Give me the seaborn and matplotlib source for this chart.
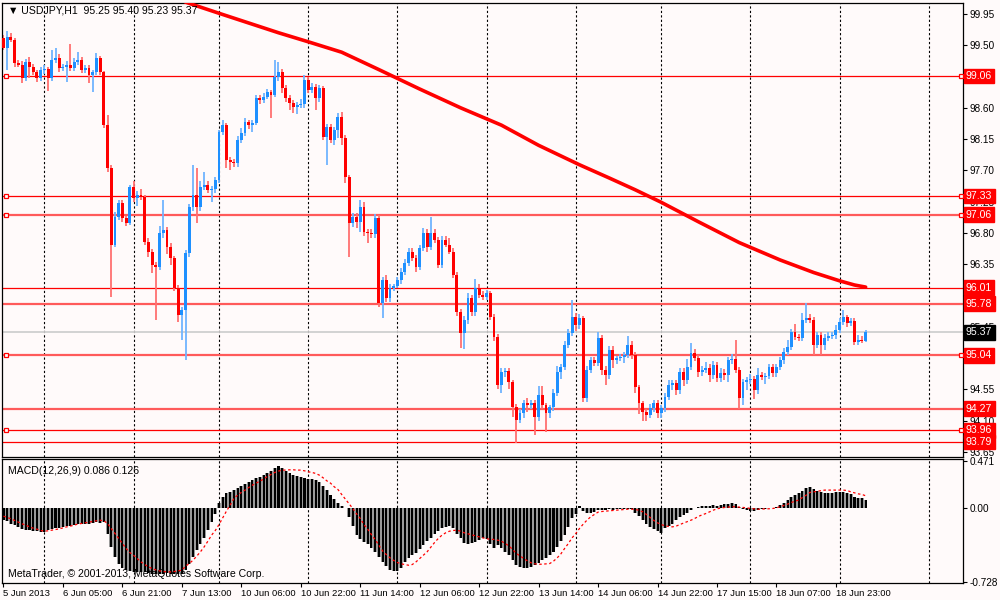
import numpy as np
import pandas as pd
import matplotlib
matplotlib.use("Agg")
import matplotlib.pyplot as plt
import seaborn as sns

# USDJPY H1 candles, bar 0 = 5 Jun 2013 13:00 (open of the first bar, then closes)
first_open = 99.60
closes = [
    99.46, 99.62, 99.58, 99.24, 99.22, 99.03, 99.26, 99.19, 99.11, 99.03,
    99.14, 99.16, 99.03, 99.29, 99.32, 99.17, 99.19, 99.22, 99.17, 99.26,
    99.29, 99.14, 99.17, 99.07, 99.11, 99.32, 99.11, 98.35, 97.73, 96.63,
    97.03, 97.23, 97.01, 96.94, 97.46, 97.30, 97.35, 97.32, 96.67, 96.53,
    96.34, 96.31, 96.80, 96.84, 96.60, 96.44, 96.01, 95.62, 95.69, 96.51,
    97.17, 97.35, 97.17, 97.46, 97.49, 97.42, 97.43, 97.56, 98.25, 98.35,
    97.85, 97.82, 97.80, 98.14, 98.24, 98.40, 98.35, 98.38, 98.74, 98.71,
    98.76, 98.83, 98.78, 99.04, 99.11, 98.89, 98.74, 98.67, 98.61, 98.64,
    98.65, 99.00, 98.86, 98.90, 98.74, 98.89, 98.18, 98.32, 98.14, 98.28,
    98.47, 98.17, 97.60, 96.94, 97.03, 96.96, 97.17, 96.81, 96.80, 96.78,
    97.01, 95.79, 96.12, 95.86, 96.01, 96.04, 96.12, 96.24, 96.37, 96.53,
    96.44, 96.31, 96.58, 96.80, 96.60, 96.80, 96.70, 96.34, 96.70, 96.63,
    96.53, 96.19, 95.66, 95.36, 95.55, 95.86, 95.66, 96.01, 95.91, 95.88,
    95.94, 95.59, 95.30, 94.61, 94.80, 94.81, 94.66, 94.29, 94.11, 94.21,
    94.35, 94.32, 94.35, 94.15, 94.47, 94.32, 94.21, 94.29, 94.50, 94.80,
    94.87, 95.19, 95.36, 95.59, 95.47, 95.58, 94.42, 94.83, 94.97, 94.93,
    95.29, 94.83, 94.75, 95.12, 94.97, 95.00, 95.01, 95.04, 95.19, 95.04,
    94.58, 94.35, 94.22, 94.18, 94.28, 94.35, 94.21, 94.28, 94.44, 94.61,
    94.64, 94.54, 94.80, 94.68, 94.87, 95.07, 95.00, 94.80, 94.83, 94.86,
    94.75, 94.90, 94.71, 94.78, 94.75, 94.97, 94.99, 94.83, 94.42, 94.66,
    94.68, 94.70, 94.54, 94.75, 94.73, 94.74, 94.87, 94.78, 94.87, 94.97,
    95.09, 95.16, 95.37, 95.30, 95.29, 95.55, 95.58, 95.55, 95.19, 95.33,
    95.19, 95.29, 95.32, 95.33, 95.40, 95.52, 95.59, 95.50, 95.53, 95.23,
    95.26, 95.25, 95.37,
]
# wick lengths above / below the candle body
upper_wick = [
    0.05, 0.08, 0.06, 0.02, 0.05, 0.06, 0.04, 0.07, 0.04, 0.03,
    0.04, 0.05, 0.02, 0.14, 0.14, 0.05, 0.04, 0.05, 0.30, 0.05,
    0.12, 0.04, 0.04, 0.04, 0.03, 0.07, 0.03, 0.02, 0.15, 0.04,
    0.07, 0.05, 0.04, 0.04, 0.03, 0.08, 0.05, 0.08, 0.03, 0.05,
    0.04, 0.04, 0.10, 0.43, 0.05, 0.05, 0.03, 0.04, 0.05, 0.05,
    0.05, 0.43, 0.38, 0.08, 0.19, 0.05, 0.05, 0.05, 0.03, 0.07,
    0.03, 0.04, 0.05, 0.05, 0.07, 0.05, 0.03, 0.04, 0.04, 0.04,
    0.05, 0.04, 0.03, 0.25, 0.15, 0.05, 0.04, 0.04, 0.04, 0.05,
    0.07, 0.07, 0.04, 0.05, 0.04, 0.04, 0.03, 0.05, 0.04, 0.05,
    0.05, 0.07, 0.04, 0.03, 0.05, 0.05, 0.10, 0.08, 0.05, 0.05,
    0.06, 0.05, 0.05, 0.08, 0.05, 0.03, 0.05, 0.05, 0.05, 0.05,
    0.05, 0.04, 0.05, 0.07, 0.05, 0.23, 0.05, 0.04, 0.05, 0.05,
    0.10, 0.05, 0.04, 0.04, 0.06, 0.08, 0.05, 0.12, 0.06, 0.05,
    0.04, 0.03, 0.04, 0.05, 0.05, 0.04, 0.05, 0.03, 0.05, 0.05,
    0.05, 0.08, 0.04, 0.05, 0.12, 0.12, 0.03, 0.04, 0.05, 0.08,
    0.05, 0.06, 0.06, 0.24, 0.05, 0.05, 0.03, 0.05, 0.05, 0.05,
    0.09, 0.04, 0.05, 0.05, 0.05, 0.03, 0.04, 0.04, 0.12, 0.06,
    0.04, 0.03, 0.03, 0.04, 0.06, 0.05, 0.04, 0.04, 0.05, 0.08,
    0.05, 0.04, 0.05, 0.06, 0.12, 0.14, 0.06, 0.04, 0.06, 0.08,
    0.06, 0.05, 0.04, 0.07, 0.06, 0.05, 0.06, 0.27, 0.04, 0.04,
    0.05, 0.07, 0.04, 0.10, 0.05, 0.05, 0.05, 0.04, 0.05, 0.04,
    0.05, 0.10, 0.05, 0.12, 0.05, 0.10, 0.21, 0.05, 0.04, 0.05,
    0.04, 0.05, 0.05, 0.05, 0.07, 0.05, 0.10, 0.03, 0.04, 0.05,
    0.07, 0.06, 0.03,
]
lower_wick = [
    0.03, 0.32, 0.03, 0.05, 0.04, 0.07, 0.05, 0.16, 0.04, 0.06,
    0.04, 0.05, 0.19, 0.04, 0.04, 0.05, 0.04, 0.22, 0.04, 0.04,
    0.04, 0.04, 0.04, 0.11, 0.24, 0.04, 0.04, 0.04, 0.05, 0.75,
    0.03, 0.05, 0.05, 0.04, 0.03, 0.05, 0.12, 0.05, 0.04, 0.08,
    0.12, 0.76, 0.05, 0.07, 0.10, 0.10, 0.05, 0.10, 0.36, 0.72,
    0.05, 0.05, 0.23, 0.05, 0.05, 0.05, 0.17, 0.05, 0.04, 0.04,
    0.12, 0.12, 0.05, 0.05, 0.05, 0.05, 0.05, 0.10, 0.03, 0.05,
    0.04, 0.03, 0.33, 0.03, 0.05, 0.07, 0.05, 0.10, 0.08, 0.10,
    0.05, 0.05, 0.05, 0.04, 0.17, 0.05, 0.05, 0.40, 0.05, 0.08,
    0.12, 0.10, 0.08, 0.49, 0.05, 0.09, 0.15, 0.05, 0.15, 0.05,
    0.05, 0.06, 0.21, 0.05, 0.05, 0.04, 0.04, 0.05, 0.04, 0.05,
    0.04, 0.08, 0.04, 0.04, 0.08, 0.05, 0.05, 0.05, 0.05, 0.04,
    0.04, 0.04, 0.05, 0.22, 0.23, 0.06, 0.05, 0.05, 0.04, 0.05,
    0.05, 0.05, 0.06, 0.05, 0.12, 0.08, 0.10, 0.14, 0.33, 0.04,
    0.08, 0.10, 0.05, 0.26, 0.05, 0.05, 0.28, 0.08, 0.06, 0.05,
    0.10, 0.05, 0.04, 0.05, 0.08, 0.05, 0.05, 0.06, 0.05, 0.05,
    0.05, 0.08, 0.14, 0.05, 0.12, 0.05, 0.05, 0.08, 0.04, 0.05,
    0.08, 0.15, 0.12, 0.08, 0.05, 0.06, 0.08, 0.07, 0.06, 0.05,
    0.07, 0.08, 0.06, 0.08, 0.05, 0.04, 0.05, 0.07, 0.06, 0.05,
    0.10, 0.05, 0.06, 0.05, 0.06, 0.10, 0.05, 0.05, 0.16, 0.10,
    0.12, 0.05, 0.13, 0.06, 0.05, 0.10, 0.04, 0.05, 0.05, 0.05,
    0.05, 0.05, 0.05, 0.04, 0.05, 0.05, 0.04, 0.04, 0.15, 0.05,
    0.15, 0.07, 0.04, 0.04, 0.05, 0.04, 0.04, 0.05, 0.04, 0.05,
    0.04, 0.04, 0.02,
]

# MACD(12,26,9) main histogram and signal line
macd_main = [
    -0.116, -0.126, -0.149, -0.168, -0.185, -0.205, -0.211, -0.218, -0.221, -0.225,
    -0.228, -0.231, -0.215, -0.205, -0.195, -0.190, -0.182, -0.175, -0.170, -0.163,
    -0.155, -0.155, -0.150, -0.150, -0.148, -0.135, -0.140, -0.130, -0.248, -0.380,
    -0.479, -0.545, -0.588, -0.611, -0.621, -0.628, -0.628, -0.631, -0.634, -0.641,
    -0.644, -0.648, -0.644, -0.644, -0.641, -0.644, -0.648, -0.651, -0.644, -0.611,
    -0.545, -0.479, -0.413, -0.347, -0.291, -0.215, -0.132, -0.050, 0.050, 0.116,
    0.149, 0.165, 0.182, 0.205, 0.221, 0.238, 0.258, 0.278, 0.297, 0.314,
    0.330, 0.350, 0.373, 0.396, 0.420, 0.403, 0.370, 0.347, 0.330, 0.320,
    0.307, 0.297, 0.294, 0.287, 0.278, 0.258, 0.225, 0.182, 0.132, 0.089,
    0.056, 0.026, 0.008, -0.083, -0.172, -0.264, -0.304, -0.330, -0.353, -0.390,
    -0.429, -0.479, -0.529, -0.572, -0.605, -0.618, -0.621, -0.585, -0.529, -0.489,
    -0.456, -0.436, -0.400, -0.357, -0.324, -0.291, -0.251, -0.225, -0.198, -0.185,
    -0.172, -0.198, -0.248, -0.297, -0.337, -0.347, -0.344, -0.334, -0.317, -0.297,
    -0.304, -0.347, -0.390, -0.360, -0.396, -0.429, -0.463, -0.512, -0.562, -0.578,
    -0.588, -0.585, -0.578, -0.562, -0.535, -0.512, -0.489, -0.463, -0.429, -0.380,
    -0.324, -0.264, -0.182, -0.099, -0.050, 0.026, -0.026, -0.040, -0.040, -0.033,
    -0.017, -0.020, -0.017, -0.010, -0.013, -0.010, -0.010, -0.007, -0.003, -0.010,
    -0.040, -0.076, -0.116, -0.152, -0.182, -0.205, -0.225, -0.238, -0.198, -0.175,
    -0.149, -0.119, -0.089, -0.066, -0.040, -0.017, 0.007, 0.017, 0.023, 0.026,
    0.026, 0.030, 0.026, 0.033, 0.040, 0.046, 0.050, 0.040, 0.010, -0.007,
    -0.017, -0.026, -0.026, -0.017, -0.010, -0.007, 0.000, 0.007, 0.013, 0.033,
    0.050, 0.083, 0.109, 0.132, 0.155, 0.175, 0.198, 0.208, 0.192, 0.175,
    0.165, 0.155, 0.149, 0.149, 0.159, 0.159, 0.159, 0.155, 0.139, 0.116,
    0.106, 0.099, 0.086,
]
macd_signal = [
    -0.076, -0.089, -0.102, -0.119, -0.135, -0.152, -0.165, -0.182, -0.195, -0.205,
    -0.218, -0.225, -0.221, -0.215, -0.208, -0.202, -0.192, -0.182, -0.175, -0.165,
    -0.155, -0.149, -0.142, -0.135, -0.129, -0.122, -0.116, -0.122, -0.149, -0.198,
    -0.248, -0.297, -0.347, -0.396, -0.436, -0.463, -0.496, -0.529, -0.555, -0.578,
    -0.595, -0.608, -0.618, -0.624, -0.628, -0.628, -0.624, -0.618, -0.611, -0.572,
    -0.545, -0.512, -0.472, -0.429, -0.380, -0.324, -0.264, -0.218, -0.159, -0.092,
    -0.026, 0.033, 0.099, 0.132, 0.159, 0.182, 0.208, 0.231, 0.251, 0.271,
    0.291, 0.317, 0.337, 0.357, 0.370, 0.380, 0.380, 0.383, 0.383, 0.380,
    0.380, 0.373, 0.363, 0.357, 0.347, 0.330, 0.304, 0.274, 0.251, 0.215,
    0.188, 0.139, 0.093, 0.046, 0.000, -0.053, -0.099, -0.159, -0.205, -0.258,
    -0.307, -0.363, -0.420, -0.456, -0.489, -0.515, -0.535, -0.548, -0.555, -0.562,
    -0.555, -0.529, -0.496, -0.463, -0.429, -0.383, -0.337, -0.297, -0.264, -0.241,
    -0.225, -0.218, -0.215, -0.225, -0.241, -0.251, -0.261, -0.271, -0.281, -0.291,
    -0.301, -0.304, -0.307, -0.314, -0.324, -0.347, -0.370, -0.406, -0.446, -0.469,
    -0.496, -0.519, -0.538, -0.548, -0.552, -0.552, -0.548, -0.545, -0.522, -0.489,
    -0.449, -0.396, -0.347, -0.291, -0.248, -0.198, -0.155, -0.116, -0.083, -0.059,
    -0.036, -0.030, -0.026, -0.023, -0.020, -0.017, -0.013, -0.010, -0.007, -0.007,
    -0.010, -0.017, -0.033, -0.059, -0.089, -0.119, -0.142, -0.159, -0.172, -0.178,
    -0.182, -0.175, -0.159, -0.145, -0.132, -0.116, -0.099, -0.079, -0.063, -0.050,
    -0.033, -0.017, -0.003, 0.003, 0.010, 0.013, 0.017, 0.017, 0.013, 0.010,
    0.007, 0.000, -0.003, -0.007, -0.007, -0.003, -0.003, 0.000, 0.007, 0.017,
    0.030, 0.043, 0.059, 0.073, 0.083, 0.109, 0.132, 0.159, 0.165, 0.172,
    0.178, 0.182, 0.182, 0.182, 0.182, 0.182, 0.182, 0.178, 0.165, 0.155,
    0.145, 0.139, 0.126,
]

# thick red moving average, read at these bars
ma_bars = [45, 49, 58, 66, 74, 82, 91, 101, 112, 123, 134, 144, 155, 163, 170,
           177, 187, 198, 209, 218, 225, 229, 232]
ma_values = [100.25, 100.12, 99.96, 99.82, 99.68, 99.55, 99.40, 99.15, 98.87, 98.60,
             98.35, 98.06, 97.78, 97.59, 97.42, 97.24, 96.96, 96.66, 96.41, 96.23,
             96.11, 96.05, 96.02]

# horizontal levels drawn on the chart
thin_levels = [99.06, 97.33, 96.01, 93.96, 93.79]
thick_levels = [97.06, 95.78, 95.04, 94.27]
marked_levels = [99.06, 97.33, 97.06, 95.04, 93.96]
last_price = 95.37

price_ticks = [93.65, 94.10, 94.55, 95.00, 95.45, 95.90, 96.35, 96.80, 97.25,
               97.70, 98.15, 98.60, 99.05, 99.50, 99.95]
hidden_ticks = [95.00, 99.05]  # covered by the level boxes in the original
macd_ticks = [0.471, 0.0, -0.728]
macd_tick_labels = ["0.471", "0.00", "-0.728"]

day_breaks = [11, 35, 58, 82, 106, 130, 154, 177, 201, 225, 249]
time_bars = [0, 16, 32, 48, 64, 80, 96, 112, 128, 144, 160, 176, 192, 208, 224]
time_labels = ["5 Jun 2013", "6 Jun 05:00", "6 Jun 21:00", "7 Jun 13:00", "10 Jun 06:00",
               "10 Jun 22:00", "11 Jun 14:00", "12 Jun 06:00", "12 Jun 22:00", "13 Jun 14:00",
               "14 Jun 06:00", "14 Jun 22:00", "17 Jun 15:00", "18 Jun 07:00", "18 Jun 23:00"]

# ---- build the frame ----
df = pd.DataFrame({"close": closes, "up": upper_wick, "dn": lower_wick,
                   "macd": macd_main, "signal": macd_signal})
df["bar"] = np.arange(len(df))
df["open"] = [first_open] + closes[:-1]
df["top"] = df[["open", "close"]].max(axis=1)
df["bot"] = df[["open", "close"]].min(axis=1)
df["high"] = df["top"] + df["up"]
df["low"] = df["bot"] - df["dn"]
df["bull"] = df["close"] >= df["open"]

sns.set_theme(style="white")
plt.rcParams["font.family"] = ["Liberation Sans", "DejaVu Sans"]

bg = "#FFFAFA"
fig = plt.figure(figsize=(10, 6), dpi=100, facecolor=bg)
ax = fig.add_axes([0.002, 1 - 457 / 600, 0.961, 454 / 600])
axm = fig.add_axes([0.002, 1 - 583 / 600, 0.961, 124 / 600])

for a in (ax, axm):
    a.set_facecolor(bg)
    a.set_xlim(-0.4, 258.2)
    for s in a.spines.values():
        s.set_color("black")
        s.set_linewidth(0.9)
    for b in day_breaks:
        a.axvline(b, color="black", lw=0.8, ls=(0, (2, 2)), zorder=1)

ax.set_ylim(93.575, 100.108)
axm.set_ylim(-0.738, 0.49)

# levels
ax.axhline(last_price, color="#CFCFCF", lw=1.3, zorder=1)
for lv in thin_levels:
    ax.axhline(lv, color="#FF0000", lw=0.9, zorder=1.5)
for lv in thick_levels:
    ax.axhline(lv, color="#FF5A5A", lw=1.6, zorder=1.5)
ytr = ax.get_yaxis_transform()
for lv in marked_levels:
    for xa in (0.004, 0.998):
        ax.plot([xa], [lv], marker="s", ms=3.5, mfc="white", mec="#FF0000", mew=0.9,
                transform=ytr, clip_on=False, zorder=4)

# candles
wick_col = np.where(df["bull"], "#70B4FF", "#FF7070")
body_col = np.where(df["bull"], "#1E90FF", "#FF0000")
ax.vlines(df["bar"], df["low"], df["high"], colors=wick_col, lw=1.3, zorder=2)
heights = np.maximum(df["top"] - df["bot"], 0.014)
ax.bar(df["bar"], heights, bottom=df["bot"], width=0.78, color=body_col, linewidth=0, zorder=3)

# moving average
sns.lineplot(x=ma_bars, y=ma_values, ax=ax, color="#FF0000", lw=2.6, zorder=3)

# right price axis
ax.yaxis.tick_right()
ax.set_yticks(price_ticks)
ax.set_yticklabels(["" if t in hidden_ticks else f"{t:.2f}" for t in price_ticks])
ax.tick_params(axis="y", which="both", right=True, length=3, width=0.8, pad=2,
               labelsize=7.2, colors="black", direction="out")
ax.set_xticks([])
ax.set_xlabel("")
ax.set_ylabel("")
for lv in thin_levels + thick_levels:
    ax.text(1.003, lv, f"{lv:.2f}", transform=ytr, va="center", ha="left", fontsize=7.6,
            color="white", zorder=6, clip_on=False,
            bbox=dict(boxstyle="square,pad=0.22", fc="#FF0000", ec="#FF0000"))
ax.text(1.003, last_price, f"{last_price:.2f}", transform=ytr, va="center", ha="left",
        fontsize=7.6, color="white", zorder=6, clip_on=False,
        bbox=dict(boxstyle="square,pad=0.22", fc="black", ec="black"))

ax.text(0.006, 0.983, "\u25BC USDJPY,H1  95.25 95.40 95.23 95.37", transform=ax.transAxes,
        fontsize=7.6, va="center", ha="left", color="black",
        family=["Liberation Sans", "DejaVu Sans"])

# MACD panel
axm.bar(df["bar"], df["macd"], width=1.0, color="#9A9A9A", linewidth=0, zorder=2)
axm.bar(df["bar"], df["macd"], width=0.55, color="black", linewidth=0, zorder=3)
sns.lineplot(x=df["bar"], y=df["signal"], ax=axm, color="#FF0000", lw=0.9,
             linestyle=(0, (2, 2)), zorder=4)
axm.yaxis.tick_right()
axm.set_yticks(macd_ticks)
axm.set_yticklabels(macd_tick_labels)
axm.tick_params(axis="y", right=True, length=3, width=0.8, pad=2, labelsize=7.2,
                colors="black", direction="out")
axm.set_xticks(time_bars)
axm.set_xticklabels(time_labels)
axm.tick_params(axis="x", bottom=True, length=3, width=0.8, pad=1.5, labelsize=6.8,
                colors="black", direction="out")
for lab in axm.get_xticklabels():
    lab.set_horizontalalignment("left")
axm.set_xlabel("")
axm.set_ylabel("")
axm.text(0.006, 0.9, "MACD(12,26,9) 0.086 0.126", transform=axm.transAxes, fontsize=7.6,
         va="center", ha="left", color="black")
axm.text(0.006, 0.07, "MetaTrader, \u00A9 2001-2013, MetaQuotes Software Corp.",
         transform=axm.transAxes, fontsize=7.6, va="center", ha="left", color="black")

fig.savefig("out.png", dpi=100, facecolor=bg)
